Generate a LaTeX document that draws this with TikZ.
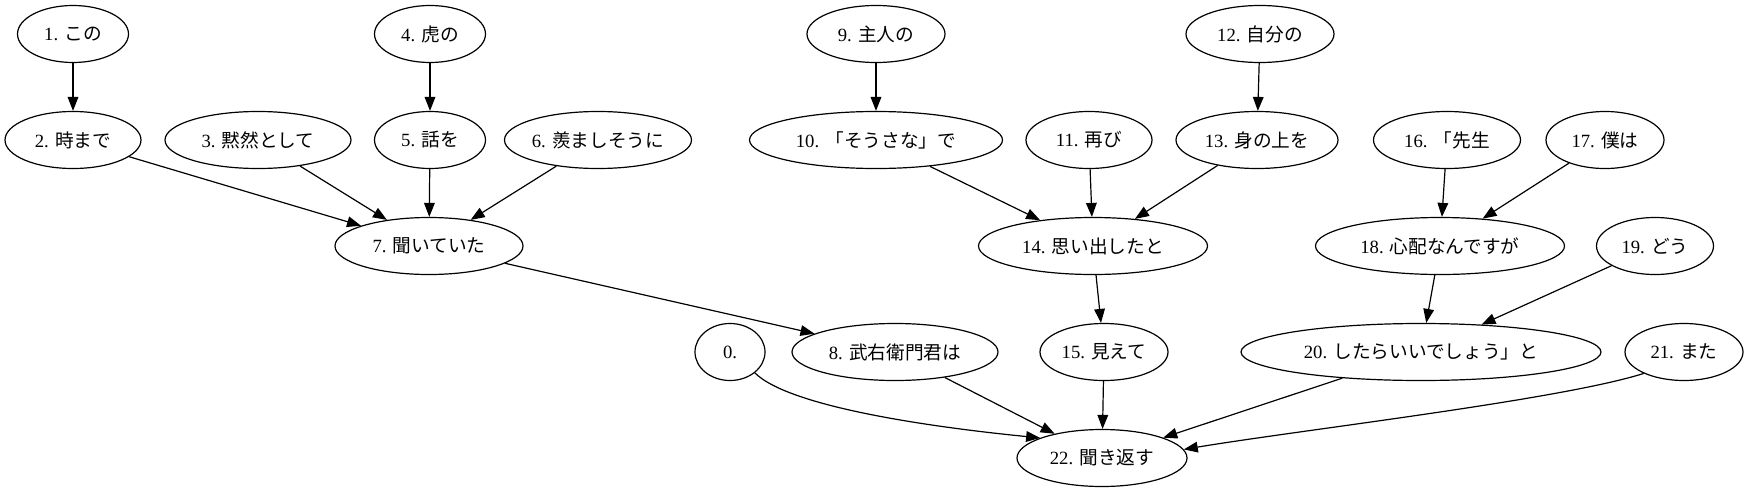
\documentclass[tikz,border=0pt]{standalone}
\usepackage{fontspec}
\setmainfont{Liberation Serif}
\newfontfamily\cjk{Noto Sans CJK JP}
\usetikzlibrary{shapes.geometric,arrows.meta}
\tikzset{
  nd/.style={ellipse,draw,line width=0.9pt,minimum width=#1*0.75pt,minimum height=57*0.75pt,inner sep=0pt,font=\fontsize{14}{16}\selectfont},
  edge/.style={-{Triangle[length=10.5pt,width=8pt]},line width=0.9pt}
}
\newcommand{\jl}[2]{#1 {\cjk #2}}
\begin{document}
\begin{tikzpicture}[x=0.75pt,y=-0.75pt]
\useasboundingbox (0,0) rectangle (1753,493);
% row 1
\node[nd=111] (n1) at (73,34) {\jl{1.}{この}};
\node[nd=111] (n4) at (430,34) {\jl{4.}{虎の}};
\node[nd=138] (n9) at (876,34) {\jl{9.}{主人の}};
\node[nd=148] (n12) at (1260,34) {\jl{12.}{自分の}};
% row 2
\node[nd=136] (n2) at (73,140) {\jl{2.}{時まで}};
\node[nd=186] (n3) at (258,140) {\jl{3.}{黙然として}};
\node[nd=111] (n5) at (430,140) {\jl{5.}{話を}};
\node[nd=172] (n6) at (598,140) {\jl{6.}{羨ましそうに}};
\node[nd=253] (n10) at (876,140) {\jl{10.}{「そうさな」で}};
\node[nd=126] (n11) at (1089,140) {\jl{11.}{再び}};
\node[nd=162] (n13) at (1257,140) {\jl{13.}{身の上を}};
\node[nd=147] (n16) at (1447,140) {\jl{16.}{「先生}};
\node[nd=118] (n17) at (1605,140) {\jl{17.}{僕は}};
% row 3
\node[nd=188] (n7) at (429,246) {\jl{7.}{聞いていた}};
\node[nd=229] (n14) at (1093,246) {\jl{14.}{思い出したと}};
\node[nd=249] (n18) at (1440,246) {\jl{18.}{心配なんですが}};
\node[nd=117] (n19) at (1655,246) {\jl{19.}{どう}};
% row 4
\node[nd=70] (n0) at (730,352) {0.};
\node[nd=206] (n8) at (895,352) {\jl{8.}{武右衛門君は}};
\node[nd=128] (n15) at (1104,352) {\jl{15.}{見えて}};
\node[nd=360] (n20) at (1421,352) {\jl{20.}{したらいいでしょう」と}};
\node[nd=118] (n21) at (1684,352) {\jl{21.}{また}};
% row 5
\node[nd=170] (n22) at (1102,458) {\jl{22.}{聞き返す}};
% edges
\draw[edge] (n1) -- (n2);
\draw[edge] (n4) -- (n5);
\draw[edge] (n9) -- (n10);
\draw[edge] (n12) -- (n13);
\draw[edge] (n2) -- (n7);
\draw[edge] (n3) -- (n7);
\draw[edge] (n5) -- (n7);
\draw[edge] (n6) -- (n7);
\draw[edge] (n10) -- (n14);
\draw[edge] (n11) -- (n14);
\draw[edge] (n13) -- (n14);
\draw[edge] (n16) -- (n18);
\draw[edge] (n17) -- (n18);
\draw[edge] (n18) -- (n20);
\draw[edge] (n19) -- (n20);
\draw[edge] (n7) -- (n8);
\draw[edge] (n14) -- (n15);
\draw[edge] (n0.-40) .. controls (790,408) and (940,428) .. (n22.162);
\draw[edge] (n8) -- (n22);
\draw[edge] (n15) -- (n22);
\draw[edge] (n20) -- (n22);
\draw[edge] (n21.208) .. controls (1560,400) and (1300,430) .. (n22.6);
\end{tikzpicture}
\end{document}
